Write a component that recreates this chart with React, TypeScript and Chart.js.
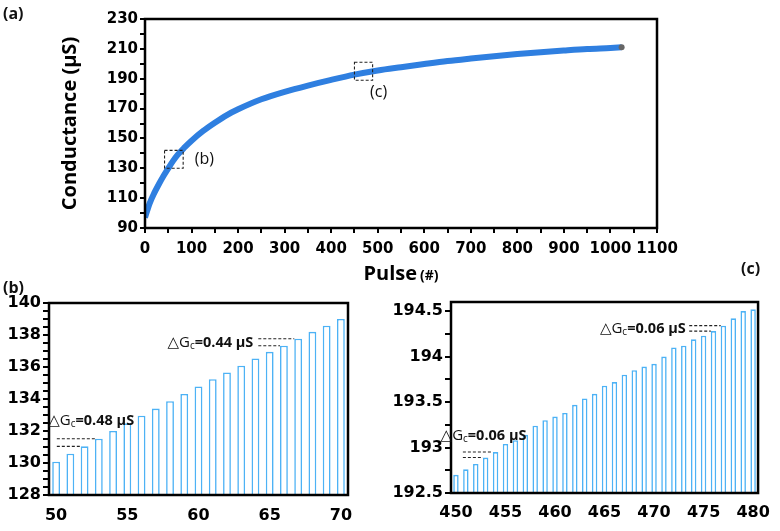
import React, { useEffect, useRef } from 'react';
import { Chart, registerables } from 'chart.js';
Chart.register(...registerables);

// ---------- (a) main curve ----------
const pulses = [0, 10, 20, 30, 40, 50, 60, 70, 85, 100, 125, 150, 175, 200, 250, 300, 350, 400, 450, 500, 550, 600, 650, 700, 750, 800, 850, 900, 950, 1000, 1024];
const conductance = [97, 106.5, 113.5, 119.5, 125, 130, 134.8, 139, 144, 148.5, 155, 160.5, 165.5, 169.5, 176.2, 181.2, 185.4, 189.2, 192.7, 195.5, 197.7, 199.8, 201.8, 203.5, 205.1, 206.5, 207.8, 208.9, 209.9, 210.6, 211];
const pulseTickLabels = [0, 100, 200, 300, 400, 500, 600, 700, 800, 900, 1000, 1100];
const condTickLabels = [90, 110, 130, 150, 170, 190, 210, 230];

// ---------- (b) pulses 50-70 ----------
const pulsesB = ['50', '51', '52', '53', '54', '55', '56', '57', '58', '59', '60', '61', '62', '63', '64', '65', '66', '67', '68', '69', '70'];
const condB = [130.08, 130.58, 131.04, 131.52, 132.0, 132.48, 132.96, 133.4, 133.86, 134.32, 134.78, 135.24, 135.66, 136.08, 136.53, 136.95, 137.33, 137.77, 138.2, 138.58, 139.0];
const condTickLabelsB = [128, 130, 132, 134, 136, 138, 140];

// ---------- (c) pulses 450-480 ----------
const pulsesC = ['450', '451', '452', '453', '454', '455', '456', '457', '458', '459', '460', '461', '462', '463', '464', '465', '466', '467', '468', '469', '470', '471', '472', '473', '474', '475', '476', '477', '478', '479', '480'];
const condC = [192.7, 192.76, 192.82, 192.89, 192.95, 193.04, 193.08, 193.14, 193.24, 193.3, 193.34, 193.38, 193.47, 193.54, 193.59, 193.68, 193.72, 193.8, 193.85, 193.89, 193.92, 194.0, 194.1, 194.12, 194.19, 194.23, 194.28, 194.34, 194.42, 194.5, 194.52];
const condTickLabelsC = [192.5, 193, 193.5, 194, 194.5];

// annotations (data coordinates)
const zoomBoxes = [
  { label: '(b)', x0: 42, x1: 82, y0: 130, y1: 142, tx: 107, ty: 135.7 },
  { label: '(c)', x0: 450, x1: 489, y0: 189, y1: 201, tx: 483.6, ty: 180.8 },
];
const deltasB = [
  { value: '0.48', tx: -0.55, ty: 132.7, align: 'left', lineFrom: 0.05, bars: [2, 3] },
  { value: '0.44', tx: 13.85, ty: 137.55, align: 'right', lineFrom: 14.2, bars: [16, 17] },
];
const deltasC = [
  { value: '0.06', tx: -1.55, ty: 193.14, align: 'left', lineFrom: 0.7, bars: [3, 4] },
  { value: '0.06', tx: 23.2, ty: 194.31, align: 'right', lineFrom: 23.55, bars: [26, 27] },
];

const CURVE = '#2F7FE0';
const BAR = '#4DB2F5';
const TICK_FONT = 'DejaVu Sans';
const TEXT_FONT = 'Open Sans';

function subdivide(labels: number[], n: number) {
  const out: number[] = [];
  for (let i = 0; i < labels.length; i++) {
    out.push(labels[i]);
    if (i < labels.length - 1) {
      for (let k = 1; k < n; k++) out.push(labels[i] + ((labels[i + 1] - labels[i]) * k) / n);
    }
  }
  return out;
}
const setTicks = (vals: number[]) => (scale: any) => {
  scale.ticks = vals.map((v) => ({ value: v }));
};
const labelIf = (labels: number[]) => (v: any) =>
  labels.some((l) => Math.abs(l - Number(v)) < 1e-6) ? String(Number(v)) : '';

const framePlugin = {
  id: 'frame',
  afterDraw(chart: any) {
    const { ctx, chartArea: a } = chart;
    ctx.save();
    ctx.strokeStyle = '#000';
    ctx.lineWidth = 2.5;
    ctx.setLineDash([]);
    ctx.strokeRect(a.left, a.top, a.right - a.left, a.bottom - a.top);
    ctx.restore();
  },
};

function drawDelta(ctx: CanvasRenderingContext2D, x: number, y: number, value: string, align: string) {
  const parts = [
    { t: '△', f: '15px "DejaVu Sans"', dy: 0 },
    { t: 'G', f: `15px "${TEXT_FONT}"`, dy: 0 },
    { t: 'c', f: `10px "${TEXT_FONT}"`, dy: 2 },
    { t: '=' + value + ' μS', f: `bold 14.5px "${TEXT_FONT}"`, dy: 0 },
  ];
  let total = 0;
  const widths = parts.map((p) => {
    ctx.font = p.f;
    const w = ctx.measureText(p.t).width;
    total += w;
    return w;
  });
  let cx = align === 'right' ? x - total : x;
  ctx.fillStyle = '#111';
  ctx.textBaseline = 'alphabetic';
  parts.forEach((p, i) => {
    ctx.font = p.f;
    ctx.fillText(p.t, cx, y + 5 + p.dy);
    cx += widths[i];
  });
}

function makeDeltaPlugin(deltas: any[]) {
  return {
    id: 'deltas',
    afterDraw(chart: any) {
      const { ctx, scales } = chart;
      const xs = scales.x, ys = scales.y;
      const meta = chart.getDatasetMeta(0);
      ctx.save();
      deltas.forEach((d) => {
        ctx.strokeStyle = '#222';
        ctx.lineWidth = 1.1;
        ctx.setLineDash([3, 2]);
        const x0 = xs.getPixelForValue(d.lineFrom);
        d.bars.forEach((bi: number) => {
          const bar = meta.data[bi];
          const xe = bar.x - bar.width / 2;
          const yv = ys.getPixelForValue((chart.data.datasets[0].data as number[])[bi]);
          ctx.beginPath();
          ctx.moveTo(x0, yv);
          ctx.lineTo(xe, yv);
          ctx.stroke();
        });
        ctx.setLineDash([]);
        drawDelta(ctx, xs.getPixelForValue(d.tx), ys.getPixelForValue(d.ty), d.value, d.align);
      });
      ctx.restore();
    },
  };
}

const annotAPlugin = {
  id: 'annotA',
  afterDraw(chart: any) {
    const { ctx, scales, chartArea: a } = chart;
    const xs = scales.x, ys = scales.y;
    ctx.save();
    zoomBoxes.forEach((b) => {
      const x0 = xs.getPixelForValue(b.x0), x1 = xs.getPixelForValue(b.x1);
      const y0 = ys.getPixelForValue(b.y1), y1 = ys.getPixelForValue(b.y0);
      ctx.strokeStyle = '#222';
      ctx.lineWidth = 1.1;
      ctx.setLineDash([3, 2]);
      ctx.strokeRect(x0, y0, x1 - x0, y1 - y0);
      ctx.setLineDash([]);
      ctx.fillStyle = '#111';
      ctx.font = `16px "${TEXT_FONT}"`;
      ctx.textBaseline = 'middle';
      ctx.textAlign = 'left';
      ctx.fillText(b.label, xs.getPixelForValue(b.tx), ys.getPixelForValue(b.ty));
    });
    // x title "Pulse (#)"
    const big = `bold 20px "${TEXT_FONT}"`, small = `bold 14px "${TEXT_FONT}"`;
    ctx.font = big;
    const w1 = ctx.measureText('Pulse').width;
    ctx.font = small;
    const w2 = ctx.measureText('(#)').width;
    const gap = 3;
    const cx = (a.left + a.right) / 2 - (w1 + gap + w2) / 2;
    const by = a.bottom + 52;
    ctx.textBaseline = 'alphabetic';
    ctx.fillStyle = '#000';
    ctx.font = big;
    ctx.fillText('Pulse', cx, by);
    ctx.font = small;
    ctx.fillText('(#)', cx + w1 + gap, by);
    ctx.restore();
  },
};

function useChart(ref: any, makeConfig: () => any) {
  useEffect(() => {
    const chart = new Chart(ref.current, makeConfig());
    return () => chart.destroy();
  }, []);
}

const tickFont = (size: number) => ({ family: TICK_FONT, weight: 'bold' as const, size });

function configA() {
  return {
    type: 'line',
    data: {
      datasets: [
        {
          data: pulses.map((p, i) => ({ x: p, y: conductance[i] })),
          borderColor: CURVE,
          borderWidth: 6,
          cubicInterpolationMode: 'monotone',
          pointRadius: pulses.map((_, i) => (i === pulses.length - 1 ? 3 : 0)),
          pointBackgroundColor: '#666',
          pointBorderWidth: 0,
          fill: false,
        },
      ],
    },
    options: {
      animation: false,
      responsive: false,
      layout: { padding: { left: 0, right: 123, top: 19, bottom: 0 } },
      plugins: { legend: { display: false }, tooltip: { enabled: false } },
      scales: {
        x: {
          type: 'linear',
          min: 0,
          max: 1100,
          afterBuildTicks: setTicks(subdivide(pulseTickLabels, 2)),
          afterFit: (s: any) => { s.height = 57; },
          ticks: { callback: labelIf(pulseTickLabels), autoSkip: false, maxRotation: 0, padding: 7, color: '#000', font: tickFont(15) },
          grid: { display: true, drawOnChartArea: false, drawTicks: true, tickLength: 5, color: '#000', lineWidth: 2 },
          border: { display: false },
        },
        y: {
          type: 'linear',
          min: 90,
          max: 230,
          afterBuildTicks: setTicks(subdivide(condTickLabels, 2)),
          afterFit: (s: any) => { s.width = 145; },
          ticks: { callback: labelIf(condTickLabels), autoSkip: false, padding: 2, color: '#000', font: tickFont(15) },
          grid: { display: true, drawOnChartArea: false, drawTicks: true, tickLength: 5, color: '#000', lineWidth: 2 },
          border: { display: false },
          title: { display: true, text: 'Conductance (μS)', color: '#000', font: { family: TEXT_FONT, weight: 'bold', size: 20 }, padding: { top: 58, bottom: 0 } },
        },
      },
    },
    plugins: [framePlugin, annotAPlugin],
  };
}

function configBar(labels: string[], values: number[], yLabels: number[], minorDiv: number, ymin: number, ymax: number, yWidth: number, pad: any, xHeight: number, xPad: number, deltas: any[]) {
  return {
    type: 'bar',
    data: {
      labels,
      datasets: [
        {
          data: values,
          backgroundColor: '#fff',
          borderColor: BAR,
          borderWidth: 1.6,
          barPercentage: 0.55,
          categoryPercentage: 1,
        },
      ],
    },
    options: {
      animation: false,
      responsive: false,
      layout: { padding: pad },
      plugins: { legend: { display: false }, tooltip: { enabled: false } },
      scales: {
        x: {
          type: 'category',
          afterFit: (s: any) => { s.height = xHeight; },
          ticks: {
            autoSkip: false,
            maxRotation: 0,
            padding: xPad,
            color: '#000',
            font: tickFont(16),
            callback: (_v: any, i: number) => (i % 5 === 0 ? labels[i] : ''),
          },
          grid: { display: false, drawTicks: false, tickLength: 0 },
          border: { display: false },
        },
        y: {
          type: 'linear',
          min: ymin,
          max: ymax,
          afterBuildTicks: setTicks(subdivide(yLabels, minorDiv)),
          afterFit: (s: any) => { s.width = yWidth; },
          ticks: { callback: labelIf(yLabels), autoSkip: false, padding: 2, color: '#000', font: tickFont(16) },
          grid: { display: true, drawOnChartArea: false, drawTicks: true, tickLength: 6, color: '#000', lineWidth: 2 },
          border: { display: false },
        },
      },
    },
    plugins: [framePlugin, makeDeltaPlugin(deltas)],
  };
}

const panelLabel: React.CSSProperties = {
  position: 'absolute',
  font: `bold 16px "${TEXT_FONT}"`,
  lineHeight: '16px',
  color: '#111',
};

export default function App() {
  const refA = useRef<HTMLCanvasElement>(null);
  const refB = useRef<HTMLCanvasElement>(null);
  const refC = useRef<HTMLCanvasElement>(null);
  useChart(refA, configA);
  useChart(refB, () =>
    configBar(pulsesB, condB, condTickLabelsB, 4, 128, 140, 49, { left: 0, right: 42, top: 18, bottom: 0 }, 36, 11, deltasB)
  );
  useChart(refC, () =>
    configBar(pulsesC, condC, condTickLabelsC, 2, 192.5, 194.6, 61, { left: 0, right: 12, top: 17, bottom: 0 }, 38, 10, deltasC)
  );
  return (
    <div style={{ position: 'absolute', left: 0, top: 0, width: 780, height: 531, background: '#fff', overflow: 'hidden' }}>
      <canvas ref={refA} width={780} height={285} style={{ position: 'absolute', left: 0, top: 0 }} />
      <canvas ref={refB} width={390} height={246} style={{ position: 'absolute', left: 0, top: 285 }} />
      <canvas ref={refC} width={390} height={246} style={{ position: 'absolute', left: 390, top: 285 }} />
      <div style={{ ...panelLabel, left: 3, top: 5 }}>(a)</div>
      <div style={{ ...panelLabel, left: 3, top: 279 }}>(b)</div>
      <div style={{ ...panelLabel, left: 741, top: 260 }}>(c)</div>
    </div>
  );
}
